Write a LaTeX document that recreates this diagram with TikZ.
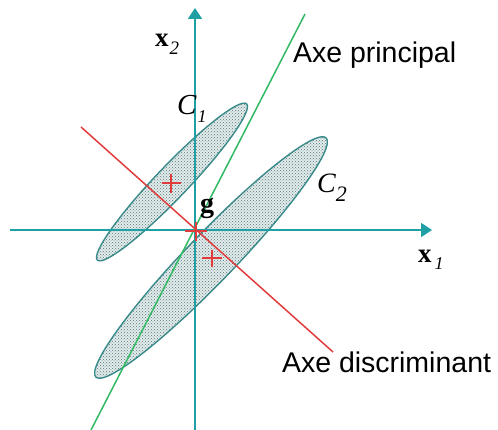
\documentclass[tikz,border=0pt]{standalone}
\usepackage{fontspec}
\setmainfont{Liberation Serif}
\newfontfamily\sansfam{Liberation Sans}
\usetikzlibrary{arrows.meta,shapes.geometric,patterns}
\definecolor{axiscol}{RGB}{30,160,165}
\definecolor{ellcol}{RGB}{55,140,140}
\definecolor{ellfill}{RGB}{226,236,236}
\definecolor{dotcol}{RGB}{90,120,120}
\definecolor{princcol}{RGB}{50,185,100}
\definecolor{discol}{RGB}{225,60,60}
\tikzset{
  axisline/.style={draw=axiscol,line width=1.8pt},
  axisarrow/.style={axisline,-{Triangle[length=11pt,width=14pt]}},
  cluster/.style={ellipse,draw=ellcol,line width=1.4pt,fill=ellfill,inner sep=0pt,
    postaction={pattern=crosshatch dots,pattern color=dotcol}},
  principal/.style={draw=princcol,line width=1.5pt},
  discrim/.style={draw=discol,line width=1.5pt},
  crossmark/.style={draw=discol,line width=1.5pt},
  lbl/.style={inner sep=0pt,outer sep=0pt,anchor=base west},
}
\begin{document}
\begin{tikzpicture}[x=1pt,y=-1pt]
\useasboundingbox (0,0) rectangle (498,430);
% clusters
\node[cluster,minimum width=216pt,minimum height=32pt,rotate=46.3] (C1e) at (172,182) {};
\node[cluster,minimum width=332pt,minimum height=48pt,rotate=46.1] (C2e) at (211,257.5) {};
% axes
\coordinate (O) at (195,230);
\coordinate (xs) at (10,230);
\coordinate (xe) at (432,230);
\coordinate (ys) at (195,430);
\coordinate (ye) at (195,8);
\draw[axisarrow] (xs) -- (xe);
\draw[axisarrow] (ys) -- (ye);
% principal and discriminant axes
\coordinate (ps) at (91,430);
\coordinate (pe) at (305,14);
\draw[principal] (ps) -- (pe);
\coordinate (ds) at (81,127);
\coordinate (de) at (333,352);
\draw[discrim] (ds) -- (de);
% centres
\draw[crossmark] (162,183) -- (181,183) (171,174) -- (171,193);
\draw[crossmark] (202,258) -- (222,258) (212,250) -- (212,267);
\draw[discol,line width=2.2pt] (185,231) -- (207,231) (196,222) -- (196,241);
% labels
\node[lbl] (x2) at (155,47) {\fontsize{27}{27}\selectfont\textbf{x}\raisebox{-8pt}{\fontsize{19}{19}\selectfont\kern1pt\textit{2}}};
\node[lbl] (x1) at (418,263) {\fontsize{27}{27}\selectfont\textbf{x}\raisebox{-7pt}{\fontsize{18}{18}\selectfont\kern3pt\textit{1}}};
\node[lbl] (C1) at (177,115) {\fontsize{29}{29}\selectfont\textit{C}\raisebox{-8pt}{\fontsize{18}{18}\selectfont\kern1pt\textit{1}}};
\node[lbl] (C2) at (317,193) {\fontsize{28}{28}\selectfont\textit{C}\raisebox{-9pt}{\fontsize{22}{22}\selectfont\textit{2}}};
\node[lbl] (g) at (200,213) {\fontsize{28}{28}\selectfont\textbf{g}};
\node[lbl] (ap) at (293,63) {\sansfam\fontsize{28.5}{28.5}\selectfont Axe principal};
\node[lbl] (ad) at (282,372) {\sansfam\fontsize{28.5}{28.5}\selectfont Axe discriminant};
\end{tikzpicture}
\end{document}
